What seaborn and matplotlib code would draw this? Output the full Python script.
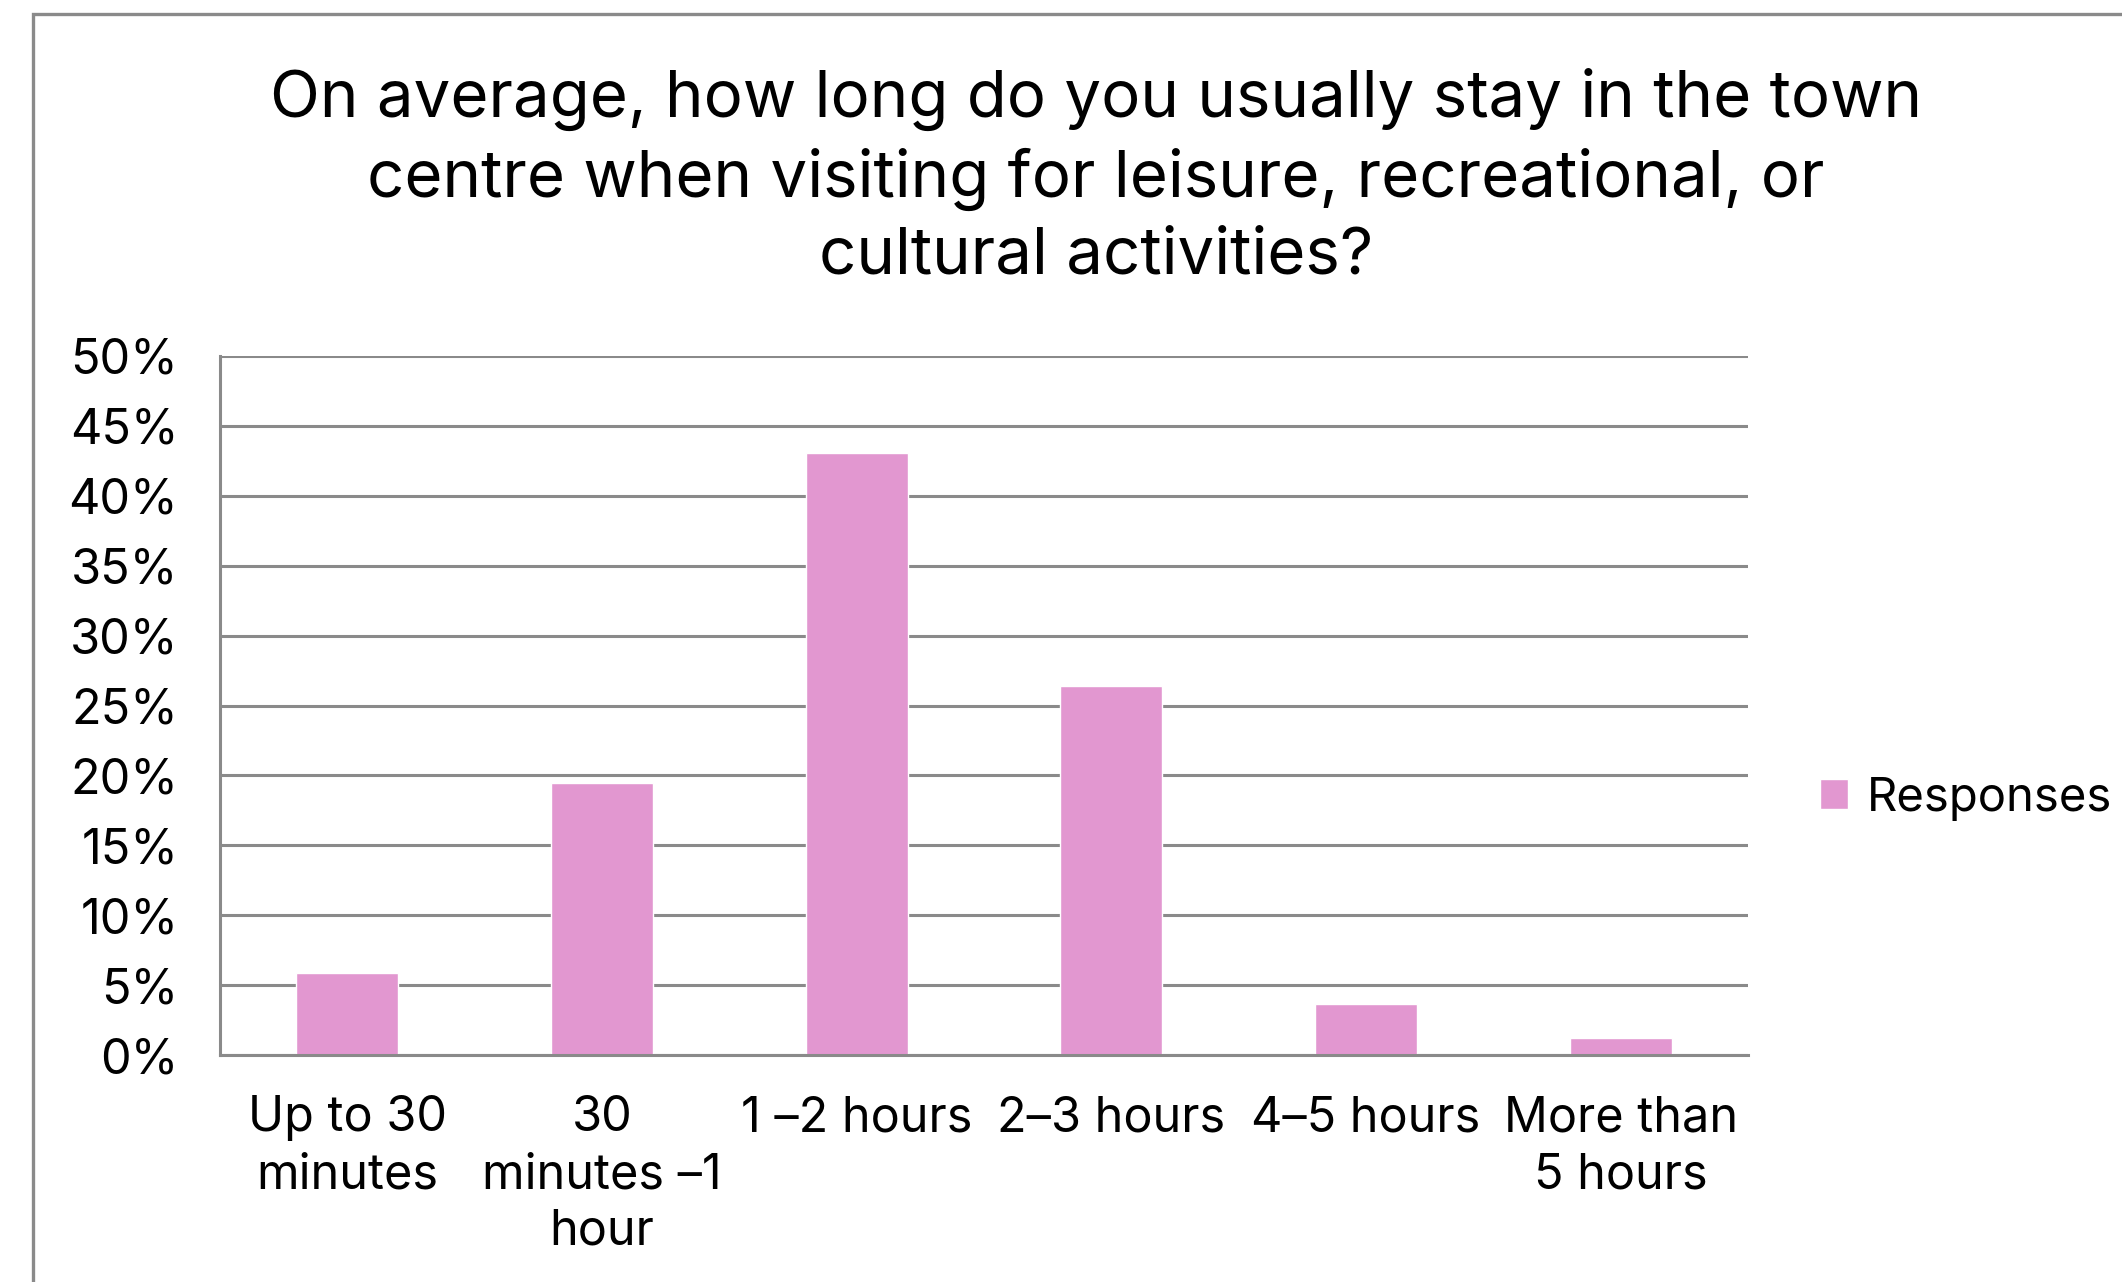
import pandas as pd
import numpy as np
import matplotlib.pyplot as plt
import seaborn as sns
from matplotlib.patches import Rectangle
from matplotlib.ticker import PercentFormatter

# Survey data (share of responses)
categories = ['Up to 30\nminutes', '30\nminutes \u20131\nhour', '1 \u20132 hours',
              '2\u20133 hours', '4\u20135 hours', 'More than\n5 hours']
responses = [5.84, 19.48, 43.05, 26.4, 3.66, 1.24]
y_ticks = [0, 5, 10, 15, 20, 25, 30, 35, 40, 45, 50]

df = pd.DataFrame({'Duration': categories, 'Responses': responses})

sns.set_style('white')
plt.rcParams['font.family'] = ['Inter', 'DejaVu Sans']
plt.rcParams['text.color'] = 'black'
plt.rcParams['xtick.labelcolor'] = 'black'
plt.rcParams['ytick.labelcolor'] = 'black'

grey = '#8a8a8a'
pink = '#E297D0'

fig = plt.figure(figsize=(21.22, 12.82), dpi=100)
ax = fig.add_axes([220 / 2122, 1 - 1055 / 1282, (1748 - 220) / 2122, (1055 - 356) / 1282])

sns.barplot(x='Duration', y='Responses', data=df, color=pink, width=0.4,
            label='Responses', ax=ax, saturation=1)

ax.set_xlim(-0.5, len(categories) - 0.5)
ax.set_ylim(0, 50)
ax.set_yticks(y_ticks)
ax.yaxis.set_major_formatter(PercentFormatter(decimals=0))
ax.grid(axis='y', color=grey, linewidth=2.2)
ax.set_axisbelow(True)
ax.set_xlabel('')
ax.set_ylabel('')

for side in ['top', 'right']:
    ax.spines[side].set_visible(False)
for side in ['left', 'bottom']:
    ax.spines[side].set_color(grey)
    ax.spines[side].set_linewidth(2.2)

# ticks between categories, Excel style
ax.set_xticks(np.arange(-0.5, len(categories), 1), minor=True)
ax.tick_params(axis='x', which='minor', length=11, width=2.2, color=grey, direction='out')
ax.tick_params(axis='x', which='major', length=0, pad=29, labelsize=35)
ax.tick_params(axis='y', length=10, width=2.2, color=grey, pad=20, labelsize=35, direction='out')
plt.setp(ax.get_xticklabels(), linespacing=1.3)

leg = ax.legend(loc='center left', bbox_to_anchor=(1777 / 2122, 1 - 799 / 1282),
                bbox_transform=fig.transFigure, frameon=False, fontsize=34,
                handlelength=0.6, handleheight=0.6, handletextpad=0.4)

fig.text(1096 / 2122, 1 - 177 / 1282,
         'On average, how long do you usually stay in the town\n'
         'centre when visiting for leisure, recreational, or\n'
         'cultural activities?',
         ha='center', va='center', fontsize=47, linespacing=1.33)

# chart frame
fig.patches.append(Rectangle((33 / 2122, -0.1), 1.2, 1.1 - 14 / 1282,
                             transform=fig.transFigure, fill=False,
                             edgecolor=grey, linewidth=2.4))

fig.savefig('out.png', dpi=100)
